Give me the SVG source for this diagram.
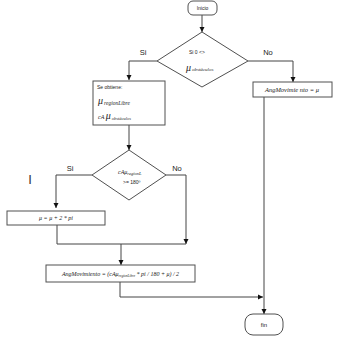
<svg xmlns="http://www.w3.org/2000/svg" width="343" height="339" viewBox="0 0 343 339">
<defs>
<marker id="ah" markerWidth="6" markerHeight="6" refX="5" refY="3" orient="auto" markerUnits="userSpaceOnUse">
<path d="M0,0.5 L5,3 L0,5.5 Z" fill="#111"/>
</marker>
<style>
.shp{fill:#fff;stroke:#505050;stroke-width:1}
.ln{fill:none;stroke:#444;stroke-width:1}
.lbl{font-family:"Liberation Sans",Arial,sans-serif;font-size:7.5px;fill:#222}
.sm{font-family:"Liberation Sans",Arial,sans-serif;font-size:5px;fill:#222}
.m{font-family:"Liberation Serif","Times New Roman",serif;font-style:italic;fill:#222}
</style>
</defs>
<rect width="343" height="339" fill="#fff"/>
<g id="connectors">
<path class="ln" d="M202,15 V32" marker-end="url(#ah)"/>
<path class="ln" d="M157,61 H129 V80" marker-end="url(#ah)"/>
<path class="ln" d="M248,61 H293 V82" marker-end="url(#ah)"/>
<path class="ln" d="M129,125 V150" marker-end="url(#ah)"/>
<path class="ln" d="M92,175 H56 V208" marker-end="url(#ah)"/>
<path class="ln" d="M166,175 H186 V244" marker-end="url(#ah)"/>
<path class="ln" d="M57,225 V244 H186"/>
<path class="ln" d="M121,244 V265" marker-end="url(#ah)"/>
<path class="ln" d="M120,282 V297 H263" marker-end="url(#ah)"/>
<path class="ln" d="M264,97 V314" marker-end="url(#ah)"/>
</g>
<g id="inicio">
<rect class="shp" x="188" y="1" width="29" height="14" rx="5"/>
<text class="sm" x="202.5" y="10" text-anchor="middle">Inicio</text>
</g>
<g id="dec1">
<polygon class="shp" points="202,32 248,61 202,87 157,61"/>
<text class="sm" x="189" y="54">Si 0 &lt;&gt;</text>
<text class="m" x="186" y="71" font-size="10">μ<tspan font-size="5" dx="1">obstáculos</tspan></text>
</g>
<text class="lbl" x="143" y="55" text-anchor="middle">Si</text>
<text class="lbl" x="268" y="55" text-anchor="middle">No</text>
<g id="angRight">
<rect class="shp" x="253" y="82" width="79" height="15"/>
<text class="m" x="292" y="92" font-size="6.5" text-anchor="middle">AngMovimie  nto = μ</text>
</g>
<g id="obtiene">
<rect class="shp" x="93" y="81" width="72" height="44"/>
<text class="sm" x="97" y="89">Se obtiene:</text>
<text class="m" x="98" y="104" font-size="10">μ<tspan font-size="5.5" dx="1" dy="1">regionLibre</tspan></text>
<text class="m" x="98" y="119" font-size="6">cA <tspan font-size="10">μ</tspan><tspan font-size="4.5" dx="1" dy="1">obstáculos</tspan></text>
</g>
<g id="dec2">
<polygon class="shp" points="129,150 166,175 129,200 92,175"/>
<text class="m" x="118" y="174" font-size="6">cAμ<tspan font-size="4.5" dy="1">regionL</tspan></text>
<text class="sm" x="123" y="184" font-size="4">&gt;= 180º</text>
</g>
<text class="lbl" x="70" y="171" text-anchor="middle">Si</text>
<text class="lbl" x="177" y="171" text-anchor="middle">No</text>
<text class="lbl" x="30" y="184" font-size="13" style="font-size:13px;fill:#333" text-anchor="middle">I</text>
<g id="mu2pi">
<rect class="shp" x="7" y="211" width="98" height="14"/>
<text class="m" x="56" y="220" font-size="6" text-anchor="middle">μ = μ + 2 * pi</text>
</g>
<g id="angBottom">
<rect class="shp" x="46" y="265" width="149" height="17"/>
<text class="m" x="120.5" y="275.5" font-size="6" text-anchor="middle">AngMovimiento = (cAμ<tspan font-size="3.5" dy="1.5">regionLibre</tspan><tspan dy="-1.5"> * pi / 180 + μ) / 2</tspan></text>
</g>
<g id="fin">
<rect class="shp" x="245" y="314" width="38" height="21" rx="8"/>
<text class="sm" x="264" y="327" font-size="6" style="font-size:6px" text-anchor="middle">fin</text>
</g>
</svg>
